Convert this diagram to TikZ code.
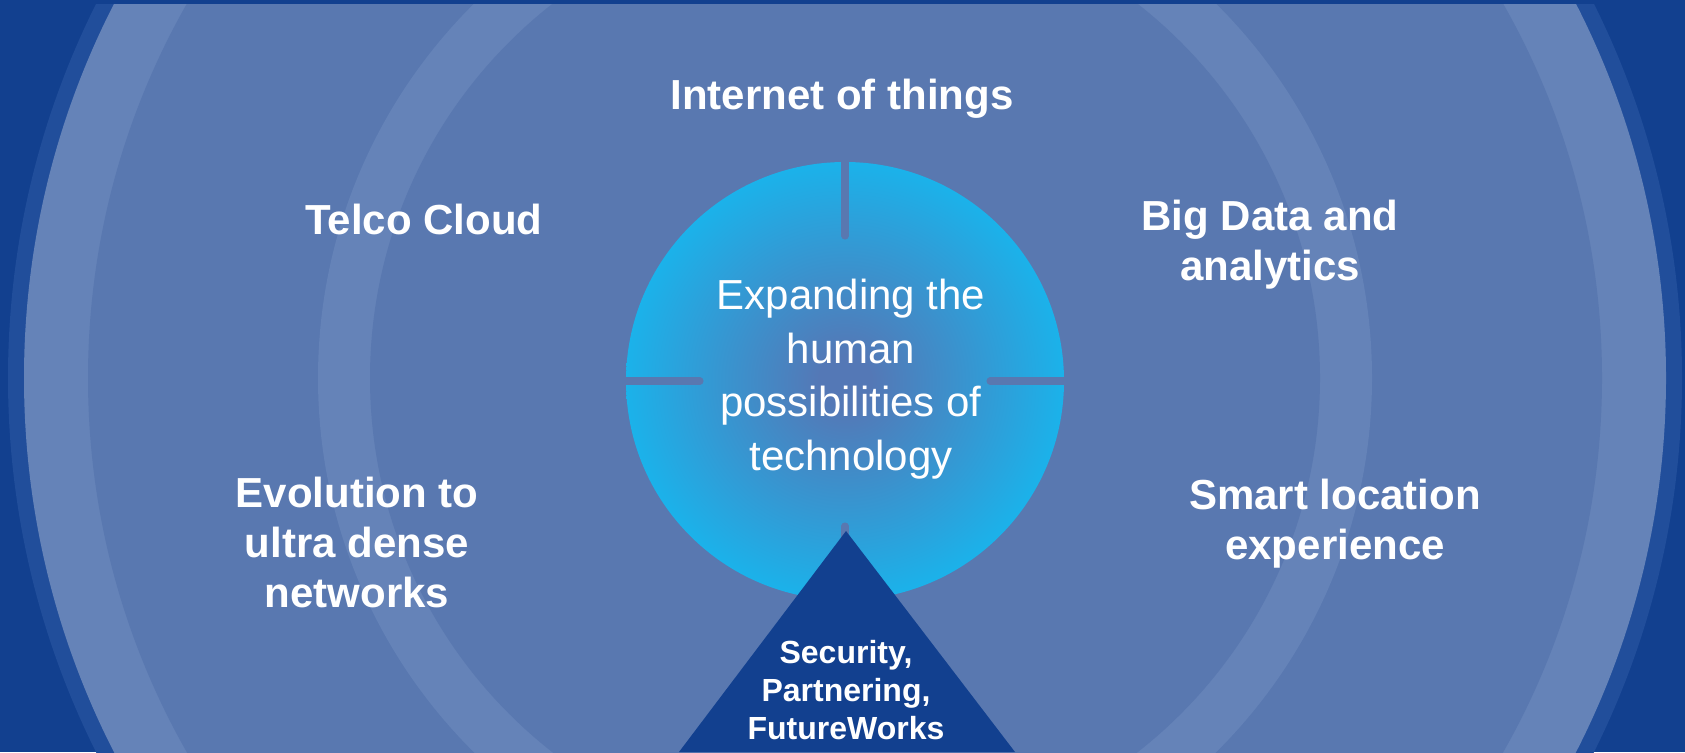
\documentclass[tikz,border=0pt]{standalone}
\usepackage{fontspec}
\setmainfont{Liberation Sans}
\definecolor{navy}{RGB}{18,64,143}
\definecolor{darkring}{RGB}{33,78,155}
\definecolor{lightring}{RGB}{101,131,184}
\definecolor{mainfill}{RGB}{89,120,176}
\definecolor{coreC}{RGB}{84,120,182}
\definecolor{coreE}{RGB}{27,178,234}
\pgfdeclareradialshading{coreglow}{\pgfpoint{0bp}{0bp}}{color(0bp)=(coreC); color(3bp)=(coreC); color(25bp)=(coreE); color(50bp)=(coreE)}
\begin{document}
\begin{tikzpicture}[x=1pt,y=-1pt,
  lbl/.style={text=white,font=\fontsize{42}{50}\selectfont\bfseries,align=center,inner sep=0pt},
  coretext/.style={text=white,font=\fontsize{42}{53.5}\selectfont,align=center,inner sep=0pt},
  tritext/.style={text=white,font=\fontsize{32}{37.6}\selectfont\bfseries,align=center,inner sep=0pt},
  tick/.style={draw=mainfill,line width=7.5pt,line cap=round}]
\useasboundingbox (0,0) rectangle (1685,752);
\fill[navy] (0,0) rectangle (1685,752);
\begin{scope}
  \clip (0,5) rectangle (1685,752);
  \fill[darkring] (845,378) circle (837pt);
  \fill[lightring] (845,378) circle (821pt);
  \fill[mainfill] (845,378) circle (757pt);
  \fill[lightring] (845,378) circle (527pt);
  \fill[mainfill] (845,378) circle (475pt);
\end{scope}
% core circle
\node[circle,minimum size=438pt,inner sep=0pt,shading=coreglow] (core) at (845,381) {};
\draw[tick] (core.north) -- ++(0,74);
\draw[tick] (core.west) -- ++(74,0);
\draw[tick] (core.east) -- ++(-74,0);
\draw[tick] (core.south) -- ++(0,-74);
% triangle
\coordinate (apex) at (846,531);
\coordinate (bl) at (679,752);
\coordinate (br) at (1015,752);
\fill[navy] (apex) -- (bl) -- (br) -- cycle;
% texts
\node[coretext] (center) at (851,379) {Expanding the\\human\\possibilities of\\technology};
\node[lbl] (iot) at (842,99) {Internet of things};
\node[lbl] (telco) at (424,219) {Telco Cloud};
\node[lbl] (bigdata) at (1270,245) {Big Data and\\analytics};
\node[lbl] (evol) at (357,542) {Evolution to\\ultra dense\\networks};
\node[lbl] (smart) at (1335,524) {Smart location\\experience};
\node[tritext] (tri) at (846,690) {Security,\\Partnering,\\FutureWorks};
\end{tikzpicture}
\end{document}
